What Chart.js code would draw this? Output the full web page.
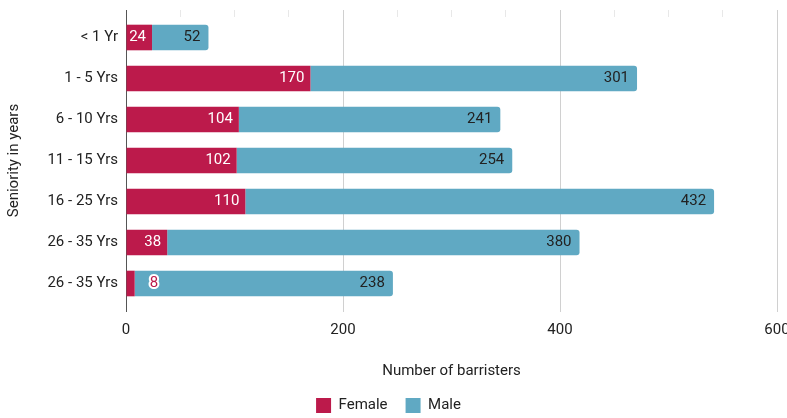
<!DOCTYPE html>
<html>
<head>
<meta charset="utf-8">
<script src="https://cdn.jsdelivr.net/npm/chart.js@4"></script>
<style>
  html, body { margin: 0; padding: 0; background: #fff; overflow: hidden; }
  #wrap { width: 787px; height: 418px; }
</style>
</head>
<body>
<div id="wrap"><canvas id="seniorityChart"></canvas></div>
<script>
const seniority = ["< 1 Yr", "1 - 5 Yrs", "6 - 10 Yrs", "11 - 15 Yrs", "16 - 25 Yrs", "26 - 35 Yrs", "26 - 35 Yrs"];
const female = [24, 170, 104, 102, 110, 38, 8];
const male = [52, 301, 241, 254, 432, 380, 238];
const xTicks = [0, 200, 400, 600];

const FEMALE_COLOR = "#bc1a4b";
const MALE_COLOR = "#60a9c3";

Chart.defaults.font.family = "Roboto";
Chart.defaults.font.size = 15;
Chart.defaults.color = "#222";

function gridColor(ctx) {
  const v = ctx.tick ? ctx.tick.value : null;
  if (v === 0) return "#555";
  if (xTicks.includes(v)) return "#d0d0d0";
  return "#e8e8e8";
}

// value labels drawn at the end of each bar segment
const barLabels = {
  id: "barLabels",
  afterDatasetsDraw(chart) {
    const ctx = chart.ctx;
    ctx.save();
    ctx.font = "15px Roboto";
    ctx.textBaseline = "middle";
    chart.data.datasets.forEach((ds, i) => {
      const meta = chart.getDatasetMeta(i);
      meta.data.forEach((bar, j) => {
        const text = String(ds.data[j]);
        const w = ctx.measureText(text).width;
        const len = bar.x - bar.base;
        if (len >= w + 8) {
          ctx.textAlign = "right";
          ctx.fillStyle = ds.labelColor;
          ctx.fillText(text, bar.x - ds.labelPad, bar.y);
        } else {
          // too short: put it just past the bar with a white halo
          ctx.textAlign = "left";
          ctx.lineJoin = "round";
          ctx.lineWidth = 4;
          ctx.strokeStyle = "#fff";
          ctx.strokeText(text, bar.x + 15, bar.y);
          ctx.fillStyle = ds.backgroundColor;
          ctx.fillText(text, bar.x + 15, bar.y);
        }
      });
    });
    ctx.restore();
  }
};

const ctx = document.getElementById("seniorityChart").getContext("2d");
new Chart(ctx, {
  type: "bar",
  data: {
    labels: seniority,
    datasets: [
      {
        label: "Female",
        data: female,
        backgroundColor: FEMALE_COLOR,
        borderRadius: 0,
        labelColor: "#fff",
        labelPad: 6,
        barPercentage: 0.625,
        categoryPercentage: 1
      },
      {
        label: "Male",
        data: male,
        backgroundColor: MALE_COLOR,
        borderRadius: 3,
        labelColor: "#222",
        labelPad: 8,
        barPercentage: 0.625,
        categoryPercentage: 1
      }
    ]
  },
  options: {
    indexAxis: "y",
    responsive: true,
    maintainAspectRatio: false,
    animation: false,
    layout: { padding: { top: 5, bottom: -5, left: 0, right: 10 } },
    plugins: {
      tooltip: { enabled: false },
      legend: {
        position: "bottom",
        labels: { boxWidth: 15, boxHeight: 15, padding: 18, color: "#222" }
      }
    },
    scales: {
      x: {
        stacked: true,
        min: 0,
        max: 600,
        border: { display: false },
        grid: { color: gridColor, tickLength: 8, drawTicks: true },
        ticks: {
          stepSize: 50,
          padding: 9,
          maxRotation: 0,
          autoSkip: false,
          callback: v => (xTicks.includes(v) ? v : null)
        },
        title: { display: true, text: "Number of barristers", padding: { top: 14, bottom: 0 } },
        afterFit(scale) { scale.paddingLeft = 0; scale.paddingRight = 0; }
      },
      xTop: {
        position: "top",
        axis: "x",
        min: 0,
        max: 600,
        border: { display: false },
        grid: { color: gridColor, tickLength: 7, drawOnChartArea: false },
        ticks: { stepSize: 50, display: false },
        afterFit(scale) { scale.paddingLeft = 0; scale.paddingRight = 0; }
      },
      y: {
        stacked: true,
        border: { display: false },
        grid: { display: false, drawTicks: false },
        ticks: { padding: 8 },
        title: { display: true, text: "Seniority in years", padding: { top: 5, bottom: 0 } },
        afterFit(scale) { scale.width = 126; }
      }
    }
  },
  plugins: [barLabels]
});
</script>
</body>
</html>
